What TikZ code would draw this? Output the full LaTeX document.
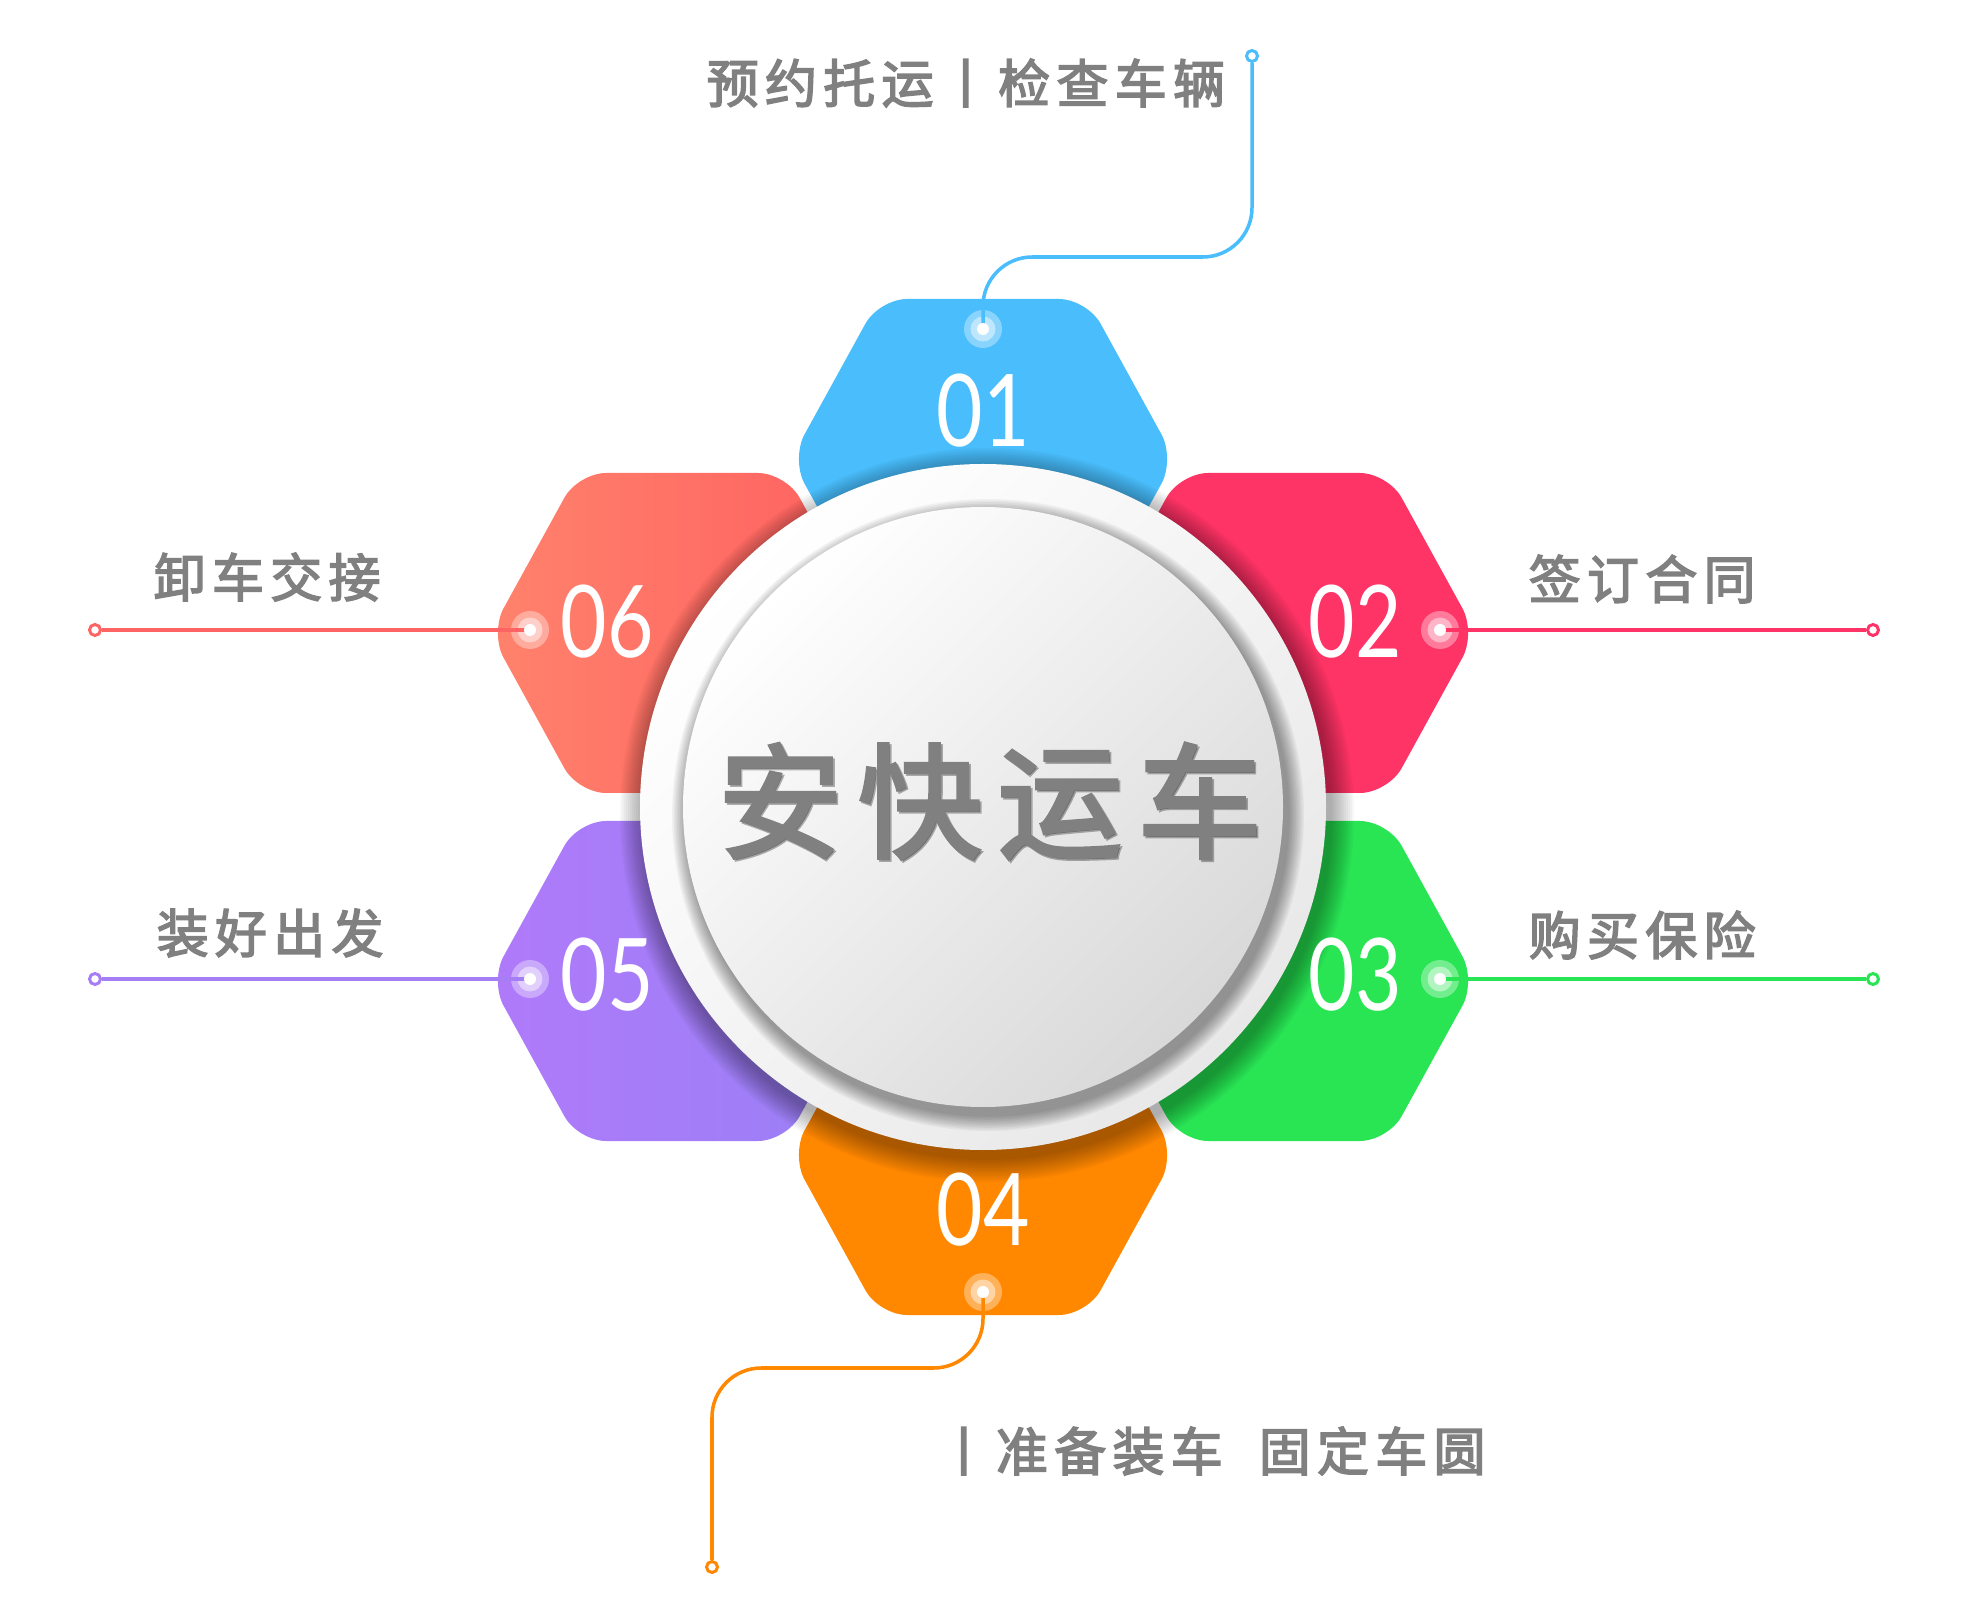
\documentclass[tikz,border=0pt]{standalone}
\usepackage{graphicx}
\usepackage{fontspec}
\newfontfamily\cjk[LetterSpace=12,FakeBold=3]{Noto Sans CJK SC}
\newfontfamily\cjktitle[LetterSpace=12,FakeBold=2.5]{Noto Sans CJK SC}
\newfontfamily\numfont{Lato}
\definecolor{cblue}{RGB}{74,189,252}
\definecolor{cpink}{RGB}{255,52,102}
\definecolor{cgreen}{RGB}{41,229,84}
\definecolor{corange}{RGB}{255,136,0}
\definecolor{cviolet}{RGB}{176,122,250}
\definecolor{cvioletb}{RGB}{152,128,245}
\definecolor{cvline}{RGB}{165,125,245}
\definecolor{ccoral}{RGB}{255,130,108}
\definecolor{ccoralb}{RGB}{255,96,96}
\definecolor{ccline}{RGB}{255,100,100}
\definecolor{txtgray}{RGB}{128,128,128}
\newcommand{\digits}[1]{\scalebox{0.8}[1]{#1}}

\begin{document}
\begin{tikzpicture}[x=0.01cm,y=0.01cm,
  hexa/.style={rounded corners=8pt},
  num/.style={text=white,inner sep=0pt,font=\numfont\fontsize{28.5}{30}\selectfont},
  stepname/.style={anchor=west,inner sep=0pt,text=txtgray,font=\cjk\fontsize{14.8}{16}\selectfont},
  titlefont/.style={inner sep=0pt,font=\cjktitle\fontsize{35.5}{40}\selectfont},
  wire/.style={line width=1pt,rounded corners=14pt},
  tip/.style={circle,draw,fill=white,line width=0.85pt,inner sep=0pt,minimum size=1.1mm}]
  \useasboundingbox (0,0) rectangle (1963,1611);
  \coordinate (C) at (983,804);

  \fill[cblue,hexa,shift={(983,1152)}] (192,0)--(104,160)--(-104,160)--(-192,0)--(-104,-160)--(104,-160)--cycle;
  \fill[cpink,hexa,shift={(1284,978)}] (192,0)--(104,160)--(-104,160)--(-192,0)--(-104,-160)--(104,-160)--cycle;
  \fill[cgreen,hexa,shift={(1284,630)}] (192,0)--(104,160)--(-104,160)--(-192,0)--(-104,-160)--(104,-160)--cycle;
  \fill[corange,hexa,shift={(983,456)}] (192,0)--(104,160)--(-104,160)--(-192,0)--(-104,-160)--(104,-160)--cycle;
  \shade[left color=cviolet,right color=cvioletb,hexa,shift={(682,630)}] (192,0)--(104,160)--(-104,160)--(-192,0)--(-104,-160)--(104,-160)--cycle;
  \shade[left color=ccoral,right color=ccoralb,hexa,shift={(682,978)}] (192,0)--(104,160)--(-104,160)--(-192,0)--(-104,-160)--(104,-160)--cycle;

  \foreach \i in {1,...,12}
    \fill[black,opacity=.03] ([shift={(4,-8)}]C) circle ({343+2*\i});
  \shade[top color=white,bottom color=black!9,shading angle=45] (C) circle (343);
  \foreach \i in {1,...,10}
    \fill[black,opacity=.045] ([shift={(5,-8)}]C) circle ({300+1.6*\i});
  \shade[top color=white,bottom color=black!15,shading angle=45] (C) circle (300);

  \node[titlefont,text=black,opacity=.3] (t0) at (992,808) {安快运车};
  \node[titlefont,text=txtgray] (title) at (990,810) {安快运车};

  \node[num] (n1) at (983,1200) {\digits{01}};
  \node[num] (n2) at (1355,989) {\digits{02}};
  \node[num] (n3) at (1355,636) {\digits{03}};
  \node[num] (n4) at (983,401) {\digits{04}};
  \node[num] (n5) at (607,636) {\digits{05}};
  \node[num] (n6) at (607,989) {\digits{06}};

  \coordinate (d1) at (983,1282);
  \coordinate (d2) at (1440,981);
  \coordinate (d3) at (1440,632);
  \coordinate (d4) at (983,319);
  \coordinate (d5) at (530,632);
  \coordinate (d6) at (530,981);
  \coordinate (k1) at (1252,1354);
  \coordinate (k4) at (712,243);

  \node[tip,draw=cblue] (e1) at (1252,1555) {};
  \node[tip,draw=cpink] (e2) at (1873,981) {};
  \node[tip,draw=cgreen] (e3) at (1873,632) {};
  \node[tip,draw=corange] (e4) at (712,44) {};
  \node[tip,draw=cvline] (e5) at (95,632) {};
  \node[tip,draw=ccline] (e6) at (95,981) {};

  \foreach \i in {1,...,6} {
    \fill[white,opacity=.35] (d\i) circle (19);
    \fill[white,opacity=.45] (d\i) circle (12.5);
  }
  \draw[wire,cblue] (d1) |- (k1) -- (e1);
  \draw[wire,cpink] (d2) -- (e2);
  \draw[wire,cgreen] (d3) -- (e3);
  \draw[wire,corange] (d4) |- (k4) -- (e4);
  \draw[wire,cvline] (d5) -- (e5);
  \draw[wire,ccline] (d6) -- (e6);
  \foreach \i in {1,...,6}
    \fill[white] (d\i) circle (6);

  \node[stepname] (s1) at (706,1528) {预约托运丨检查车辆};
  \node[stepname] (s2) at (1528,1032) {签订合同};
  \node[stepname] (s3) at (1528,676) {购买保险};
  \node[stepname] (s4) at (937,160) {丨准备装车\ \ 固定车圆};
  \node[stepname] (s5) at (156,678) {装好出发};
  \node[stepname] (s6) at (153,1034) {卸车交接};
\end{tikzpicture}
\end{document}
